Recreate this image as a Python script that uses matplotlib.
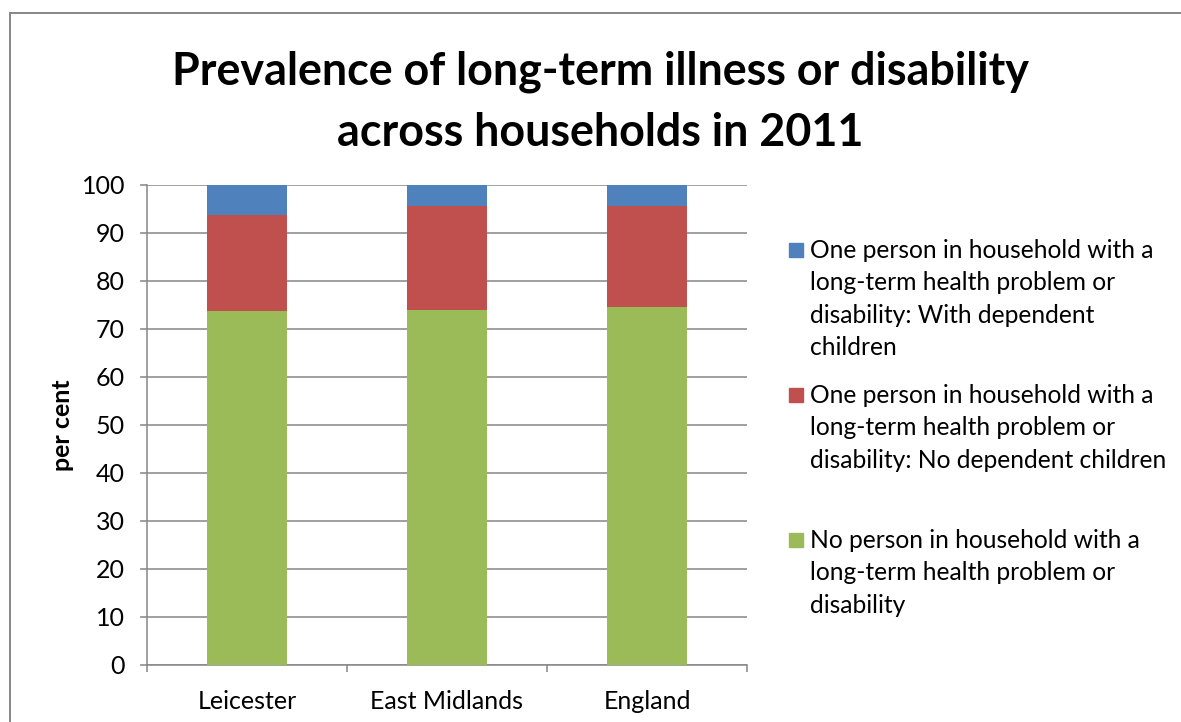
import matplotlib
matplotlib.use("Agg")
import matplotlib.pyplot as plt
from matplotlib.patches import Rectangle
import numpy as np

categories = ["Leicester", "East Midlands", "England"]
no_person = [73.75, 73.9, 74.5]
one_no_children = [19.95, 21.7, 21.0]
one_with_children = [6.3, 4.4, 4.5]

series_labels = [
    "One person in household with a\nlong-term health problem or\ndisability: With dependent\nchildren",
    "One person in household with a\nlong-term health problem or\ndisability: No dependent children",
    "No person in household with a\nlong-term health problem or\ndisability",
]
colors = ["#4F81BD", "#C0504D", "#9BBB59"]
yticks = [0, 10, 20, 30, 40, 50, 60, 70, 80, 90, 100]

plt.rcParams['font.family'] = ['Lato', 'DejaVu Sans']

W, H = 1181, 722
fig = plt.figure(figsize=(W / 100, H / 100), dpi=100)
grey = "#868686"

# chart border
fig.patches.append(Rectangle((10 / W, -0.1), 1.2, 1 - 13 / H + 0.1, transform=fig.transFigure,
                             fill=False, edgecolor=grey, linewidth=1.4))

ax = fig.add_axes([147 / W, 1 - 664.7 / H, 600 / W, 480 / H])
x = np.arange(len(categories))
bw = 0.4
ax.bar(x, no_person, bw, color=colors[2], zorder=3)
ax.bar(x, one_no_children, bw, bottom=no_person, color=colors[1], zorder=3)
bottom2 = np.array(no_person) + np.array(one_no_children)
ax.bar(x, one_with_children, bw, bottom=bottom2, color=colors[0], zorder=3)

ax.set_xlim(-0.5, 2.5)
ax.set_ylim(0, 100)
ax.set_yticks(yticks)
ax.yaxis.grid(True, color=grey, linewidth=1.1, zorder=0)
ax.set_axisbelow(True)
for s in ["top", "right"]:
    ax.spines[s].set_visible(False)
for s in ["left", "bottom"]:
    ax.spines[s].set_color(grey)
    ax.spines[s].set_linewidth(1.1)
ax.tick_params(axis='y', direction='out', length=4.8, width=1.1, color=grey,
               labelsize=18, pad=11)
ax.set_xticks(x)
ax.set_xticklabels(categories)
ax.tick_params(axis='x', which='major', length=0, labelsize=18, pad=18)
ax.set_xticks([-0.5, 0.5, 1.5, 2.5], minor=True)
ax.tick_params(axis='x', which='minor', direction='out', length=4.8, width=1.1, color=grey)
ax.set_ylabel("per cent", fontsize=18, fontweight='bold')
ax.yaxis.set_label_coords((74 - 147) / 600, 0.5)

fig.text(600 / W, 1 - 72 / H, "Prevalence of long-term illness or disability",
         fontsize=32.3, fontweight='bold', ha='center', va='center')
fig.text(600 / W, 1 - 133 / H, "across households in 2011",
         fontsize=32.3, fontweight='bold', ha='center', va='center')

# legend
entry_tops = [250, 395, 540]
line_gap = 32.3
for lab, col, yc in zip(series_labels, colors, entry_tops):
    fig.patches.append(Rectangle((789 / W, 1 - (yc + 7) / H), 14 / W, 14 / H,
                                 transform=fig.transFigure, color=col))
    for i, line in enumerate(lab.split("\n")):
        fig.text(810 / W, 1 - (yc + 8 + i * line_gap) / H, line, fontsize=17.7,
                 ha='left', va='baseline')

fig.savefig("out.png", dpi=100)
